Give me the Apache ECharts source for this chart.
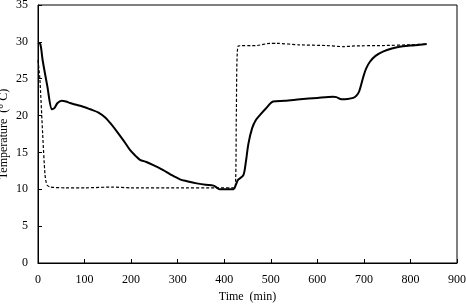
<!DOCTYPE html>
<html><head><meta charset="utf-8">
<script src="https://cdn.jsdelivr.net/npm/echarts@6/dist/echarts.min.js"></script>
<style>html,body{margin:0;padding:0;background:#fff}#c{width:466px;height:304px}</style>
</head><body><div id="c"></div>
<script>
// Solid line: measured temperature (time in min, temperature in °C)
const solidTime = [0, 5, 10, 20, 30, 35, 42, 51, 60, 69, 80, 97, 112, 130, 145, 155, 170, 185, 198, 210, 219, 233, 250, 269, 285, 305, 320, 341, 360, 377, 385, 390, 410, 420, 425, 430, 441, 446, 452, 460, 468, 477, 490, 505, 530, 563, 600, 634, 641, 652, 665, 677, 684, 690, 699, 705, 713, 725, 742, 760, 777, 800, 820, 835];
const solidTemp = [29.9, 29.7, 27.5, 24.0, 20.85, 21.0, 21.7, 22.0, 21.9, 21.7, 21.5, 21.2, 20.85, 20.4, 19.7, 19.0, 17.8, 16.5, 15.3, 14.5, 14.0, 13.7, 13.2, 12.6, 12.0, 11.35, 11.1, 10.8, 10.6, 10.5, 10.2, 10.0, 10.0, 10.0, 10.6, 11.3, 11.9, 13.5, 16.2, 18.3, 19.4, 20.1, 21.0, 21.9, 22.0, 22.2, 22.4, 22.55, 22.5, 22.2, 22.25, 22.4, 22.7, 23.3, 25.3, 26.4, 27.3, 28.1, 28.7, 29.1, 29.35, 29.5, 29.6, 29.7];
// Dashed line: setpoint / air temperature
const dashTime = [0, 4, 10, 15, 19, 26, 60, 100, 160, 200, 300, 380, 423, 426, 430, 470, 498, 513, 560, 620, 656, 680, 740, 800, 835];
const dashTemp = [27.5, 25.0, 17.5, 12.0, 10.6, 10.3, 10.2, 10.2, 10.3, 10.2, 10.2, 10.2, 10.2, 20.0, 29.45, 29.5, 29.8, 29.8, 29.6, 29.5, 29.35, 29.45, 29.5, 29.6, 29.7];
const xTicks = [0, 100, 200, 300, 400, 500, 600, 700, 800, 900];
const yTicks = [0, 5, 10, 15, 20, 25, 30, 35];

const pair = (xs, ys) => xs.map((x, i) => [x, ys[i]]);
const font = 'Liberation Serif';
const chart = echarts.init(document.getElementById('c'), null, {renderer: 'canvas'});
chart.setOption({
  animation: false,
  backgroundColor: '#fff',
  grid: {left: 38, right: 9, top: 5, bottom: 41, containLabel: false, outerBoundsMode: 'none',
         show: true, borderColor: '#000', borderWidth: 1, backgroundColor: 'transparent'},
  xAxis: {
    type: 'value', min: xTicks[0], max: xTicks[xTicks.length - 1], interval: 100,
    name: 'Time  (min)', nameLocation: 'middle', nameGap: 28, nameMoveOverlap: false,
    nameTextStyle: {fontFamily: font, fontSize: 12, color: '#000'},
    axisLine: {lineStyle: {color: '#000', width: 1}},
    axisTick: {inside: true, length: 4, lineStyle: {color: '#000'}},
    axisLabel: {fontFamily: font, fontSize: 12, color: '#000', margin: 11},
    splitLine: {show: false}
  },
  yAxis: {
    type: 'value', min: yTicks[0], max: yTicks[yTicks.length - 1], interval: 5,
    name: 'Temperature  (° C)', nameLocation: 'middle', nameGap: 28, nameRotate: 90, nameMoveOverlap: false,
    nameTextStyle: {fontFamily: font, fontSize: 12, color: '#000'},
    axisLine: {lineStyle: {color: '#000', width: 1}},
    axisTick: {inside: true, length: 4, lineStyle: {color: '#000'}},
    axisLabel: {fontFamily: font, fontSize: 12, color: '#000', margin: 10},
    splitLine: {show: false}
  },
  series: [
    {type: 'line', data: pair(dashTime, dashTemp), showSymbol: false, smooth: 0.2,
     lineStyle: {color: '#000', width: 1.2, type: [3, 2]}},
    {type: 'line', data: pair(solidTime, solidTemp), showSymbol: false, smooth: 0.3,
     lineStyle: {color: '#000', width: 2}}
  ]
});
</script></body></html>
